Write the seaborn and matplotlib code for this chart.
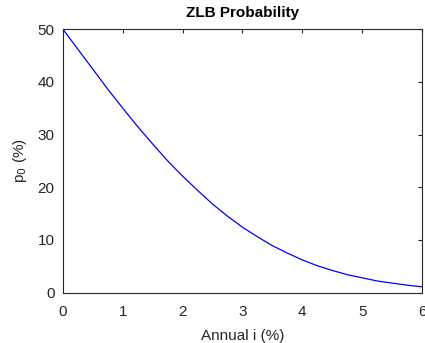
import matplotlib
matplotlib.use('Agg')
import matplotlib.pyplot as plt
import seaborn as sns

# values
annual_i = [0, 0.25, 0.5, 0.75, 1, 1.25, 1.5, 1.75, 2, 2.25, 2.5, 2.75, 3,
            3.25, 3.5, 3.75, 4, 4.25, 4.5, 4.75, 5, 5.25, 5.5, 5.75, 6]
p0 = [50, 46.2, 42.4, 38.6, 35.0, 31.5, 28.2, 25.0, 22.1, 19.4, 16.8, 14.5, 12.4,
      10.6, 8.9, 7.5, 6.2, 5.1, 4.2, 3.4, 2.8, 2.2, 1.8, 1.4, 1.1]
x_ticks = [0, 1, 2, 3, 4, 5, 6]
y_ticks = [0, 10, 20, 30, 40, 50]

sns.set_style('white')
plt.rcParams['font.family'] = ['Liberation Sans', 'DejaVu Sans']
plt.rcParams['mathtext.fontset'] = 'custom'
plt.rcParams['mathtext.rm'] = 'Liberation Sans'
plt.rcParams['mathtext.it'] = 'Liberation Sans'

fig = plt.figure(figsize=(4.25, 3.43), dpi=100)
ax = fig.add_axes([0.148, 0.147, 0.845, 0.768])

sns.lineplot(x=annual_i, y=p0, color='#0000ff', linewidth=0.9, ax=ax)

ax.set_xlim(0, 6)
ax.set_ylim(0, 50)
ax.set_xticks(x_ticks)
ax.set_yticks(y_ticks)
ax.tick_params(direction='in', length=3, width=0.8, top=True, right=True,
               labelsize=11, colors='#262626')
ax.tick_params(axis='x', pad=9)
ax.tick_params(axis='y', pad=6)
for s in ax.spines.values():
    s.set_color('#262626')
    s.set_linewidth(0.8)

ax.set_title('ZLB Probability', fontsize=11, fontweight='bold', pad=9, color='black')
ax.set_xlabel('Annual i (%)', fontsize=11, color='#262626', labelpad=7)
ax.set_ylabel('p$_{\\mathsf{0}}$ (%)', fontsize=11, color='#262626', labelpad=6)

fig.savefig('out.png', dpi=100)
